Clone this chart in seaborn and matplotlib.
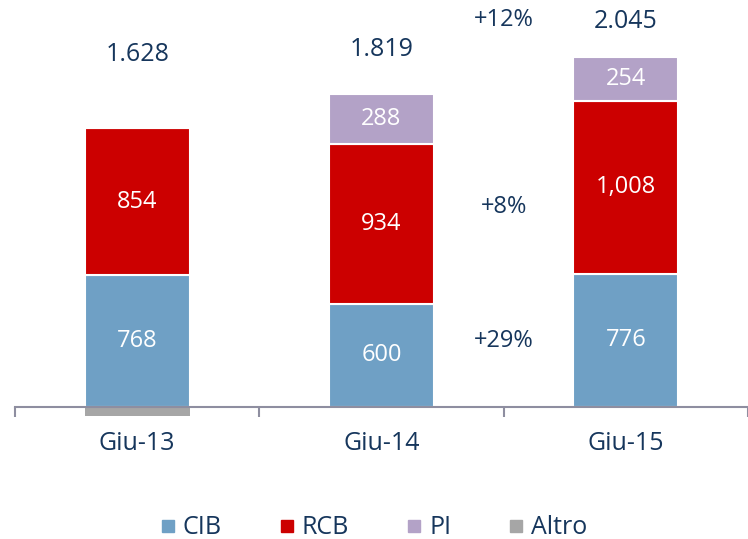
import pandas as pd
import seaborn as sns
import matplotlib.pyplot as plt
from matplotlib.lines import Line2D

# data
periods = ['Giu-13', 'Giu-14', 'Giu-15']
cib = [768, 600, 776]
rcb = [854, 934, 1008]
pi = [0, 288, 254]
altro = [-50, 0, -7]
totals = ['1.628', '1.819', '2.045']
growth = ['+12%', '+8%', '+29%']

# layout of the floating labels (data units)
total_y = [2050, 2079, 2242]
growth_y = [2254, 1165, 384]

navy = '#16365C'
colors = {'CIB': '#6FA0C5', 'RCB': '#CC0000', 'PI': '#B3A2C7', 'Altro': '#A6A6A6'}

sns.set_style('white')
plt.rcParams['font.family'] = ['Open Sans', 'DejaVu Sans']

df = pd.DataFrame({'period': periods, 'CIB': cib, 'RCB': rcb, 'PI': pi, 'Altro': altro})
df['RCB_bottom'] = df['CIB']
df['PI_bottom'] = df['CIB'] + df['RCB']

fig = plt.figure(figsize=(7.48, 5.39), dpi=100)
ax = fig.add_axes([15 / 748, 1 - 420 / 539, 1 - 15 / 748, 420 / 539])

w = 0.43
sns.barplot(data=df, x='period', y='CIB', color=colors['CIB'], width=w,
            edgecolor='white', linewidth=1.5, saturation=1, ax=ax)
sns.barplot(data=df, x='period', y='RCB', bottom=df['RCB_bottom'], color=colors['RCB'],
            width=w, edgecolor='white', linewidth=1.5, saturation=1, ax=ax)
sns.barplot(data=df, x='period', y='PI', bottom=df['PI_bottom'], color=colors['PI'],
            width=w, edgecolor='white', linewidth=1.5, saturation=1, ax=ax)
sns.barplot(data=df, x='period', y='Altro', color=colors['Altro'], width=w,
            linewidth=0, saturation=1, ax=ax)

# segment labels
for i in range(len(periods)):
    ax.text(i, cib[i] / 2, f'{cib[i]:,}', ha='center', va='center', color='white', fontsize=17)
    ax.text(i, cib[i] + rcb[i] / 2, f'{rcb[i]:,}', ha='center', va='center', color='white', fontsize=17)
    if pi[i] > 0:
        ax.text(i, cib[i] + rcb[i] + pi[i] / 2, f'{pi[i]:,}', ha='center', va='center',
                color='white', fontsize=17)
    ax.text(i, total_y[i], totals[i], ha='center', va='center', color=navy, fontsize=18)

for g, gy in zip(growth, growth_y):
    ax.text(1.5, gy, g, ha='center', va='center', color=navy, fontsize=17)

ax.set_xlim(-0.5, 2.467)
ax.set_ylim(-76, 2370)
ax.set_xlabel('')
ax.set_ylabel('')
ax.set_yticks([])
for s in ['top', 'right', 'left']:
    ax.spines[s].set_visible(False)
ax.spines['bottom'].set_position(('data', 0))
ax.spines['bottom'].set_color('#8E8EA0')
ax.spines['bottom'].set_linewidth(1.5)
ax.spines['bottom'].set_zorder(5)
ax.set_xticks([-0.5, 0.5, 1.5, 2.5], minor=True)
ax.tick_params(axis='x', which='minor', bottom=True, length=7.5, width=1.5,
               color='#8E8EA0', direction='out')
ax.tick_params(axis='x', which='major', bottom=True, length=0, pad=17,
               labelsize=18, labelcolor=navy)

handles = [Line2D([], [], marker='s', linestyle='none', markersize=9,
                  markerfacecolor=colors[k], markeredgecolor=colors[k]) for k in colors]
fig.legend(handles, list(colors.keys()), loc='center', bbox_to_anchor=(0.5, 1 - 528 / 539),
           ncol=4, frameon=False, fontsize=18, labelcolor=navy, handlelength=0.6,
           handletextpad=0.3, columnspacing=2.3)

fig.savefig('out.png', dpi=100)
